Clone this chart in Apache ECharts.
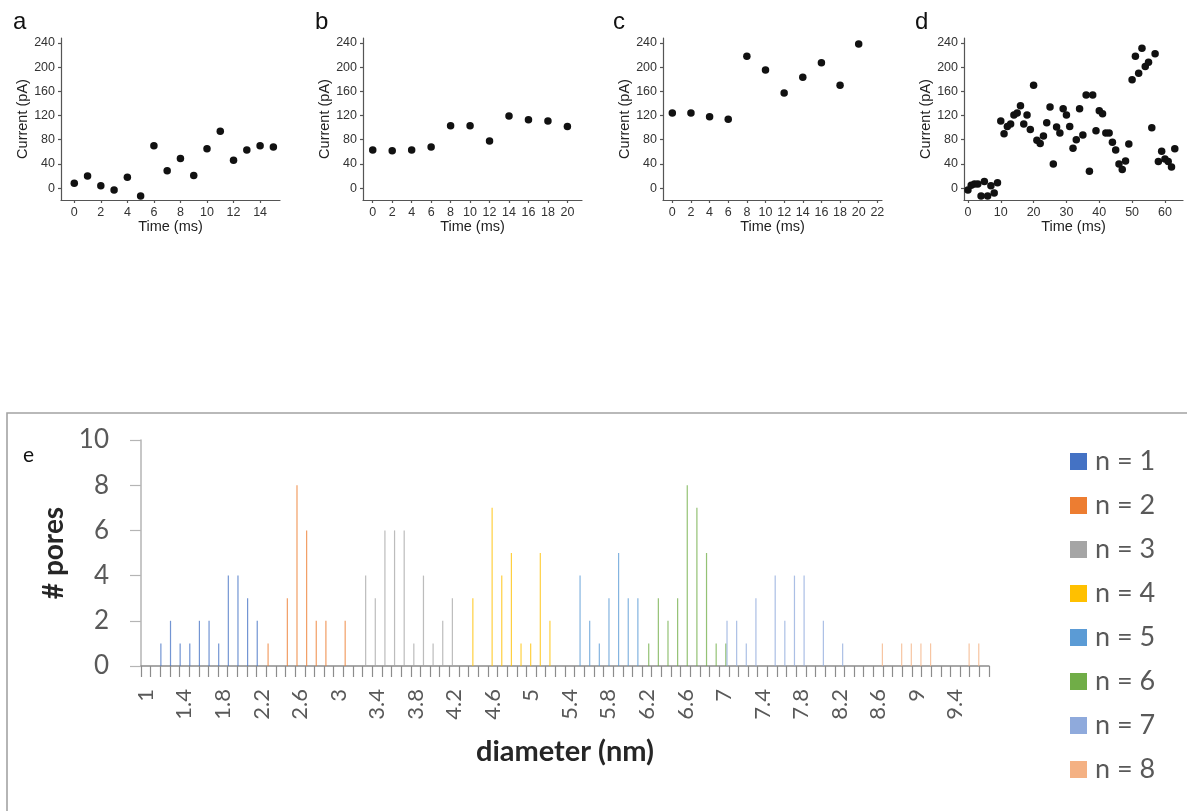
<!DOCTYPE html>
<html>
<head>
<meta charset="utf-8">
<script src="https://cdn.jsdelivr.net/npm/echarts@6/dist/echarts.min.js"></script>
<style>
html,body{margin:0;padding:0;background:#fff;}
#chart{width:1187px;height:811px;}
</style>
</head>
<body>
<div id="chart"></div>
<script>
// ---- Panels a-d : current vs time ----
const aTime = [0,1,2,3,4,5,6,7,8,9,10,11,12,13,14,15];
const aCurrent = [8,20,4,-3,18,-13,70,29,49,21,65,94,46,63,70,68];
const bTime = [0,2,4,6,8,10,12,14,16,18,20];
const bCurrent = [63,62,63,68,103,103,78,119,113,111,102];
const cTime = [0,2,4,6,8,10,12,14,16,18,20];
const cCurrent = [124,124,118,114,218,195,157,183,207,170,238];
const dTime = [0,1,2,3,4,5,6,7,8,9,10,11,12,13,14,15,16,17,18,19,20,21,22,23,24,25,26,27,28,29,30,31,
  32,33,34,35,36,37,38,39,40,41,42,43,44,45,46,47,48,49,50,51,52,53,54,55,56,57,58,59,60,61,62,63];
const dCurrent = [-3,5,7,7,-13,11,-13,4,-8,9,111,90,102,106,121,124,136,106,121,97,170,79,74,86,108,134,40,101,91,131,121,102,
  66,80,131,88,154,28,154,95,128,123,91,91,76,63,40,31,45,73,179,218,190,231,201,208,100,222,44,61,48,44,35,65];
const aTicks = [0,2,4,6,8,10,12,14];
const bTicks = [0,2,4,6,8,10,12,14,16,18,20];
const cTicks = [0,2,4,6,8,10,12,14,16,18,20,22];
const dTicks = [0,10,20,30,40,50,60];
const currentTicks = [0,40,80,120,160,200,240];

// ---- Panel e : pore diameter histogram ----
const diameters = ['1','1.1','1.2','1.3','1.4','1.5','1.6','1.7','1.8','1.9','2','2.1','2.2','2.3','2.4','2.5','2.6','2.7','2.8','2.9',
  '3','3.1','3.2','3.3','3.4','3.5','3.6','3.7','3.8','3.9','4','4.1','4.2','4.3','4.4','4.5','4.6','4.7','4.8','4.9',
  '5','5.1','5.2','5.3','5.4','5.5','5.6','5.7','5.8','5.9','6','6.1','6.2','6.3','6.4','6.5','6.6','6.7','6.8','6.9',
  '7','7.1','7.2','7.3','7.4','7.5','7.6','7.7','7.8','7.9','8','8.1','8.2','8.3','8.4','8.5','8.6','8.7','8.8','8.9',
  '9','9.1','9.2','9.3','9.4','9.5','9.6','9.7'];
const n1 = [['1.2',1],['1.3',2],['1.4',1],['1.5',1],['1.6',2],['1.7',2],['1.8',1],['1.9',4],['2',4],['2.1',3],['2.2',2]];
const n2 = [['2.3',1],['2.5',3],['2.6',8],['2.7',6],['2.8',2],['2.9',2],['3.1',2]];
const n3 = [['3.3',4],['3.4',3],['3.5',6],['3.6',6],['3.7',6],['3.8',1],['3.9',4],['4',1],['4.1',2],['4.2',3]];
const n4 = [['4.4',3],['4.6',7],['4.7',4],['4.8',5],['4.9',1],['5',1],['5.1',5],['5.2',2]];
const n5 = [['5.5',4],['5.6',2],['5.7',1],['5.8',3],['5.9',5],['6',3],['6.1',3]];
const n6 = [['6.2',1],['6.3',3],['6.4',2],['6.5',3],['6.6',8],['6.7',7],['6.8',5],['6.9',1],['7',1]];
const n7 = [['7',2],['7.1',2],['7.2',1],['7.3',3],['7.5',4],['7.6',2],['7.7',4],['7.8',4],['8',2],['8.2',1]];
const n8 = [['8.6',1],['8.8',1],['8.9',1],['9',1],['9.1',1],['9.5',1],['9.6',1]];
const seriesNames = ['n = 1','n = 2','n = 3','n = 4','n = 5','n = 6','n = 7','n = 8'];
const seriesColors = ['#4472C4','#ED7D31','#A5A5A5','#FFC000','#5B9BD5','#70AD47','#8FAADC','#F4B183'];

const zip = (xs, ys) => xs.map((x, i) => [x, ys[i]]);
const FONT = 'Liberation Sans, Arial, sans-serif';
const XL = 'Lato, Carlito, sans-serif';

const panels = [
  {left: 61,  min: -1, max: 15.5, ticks: aTicks, data: zip(aTime, aCurrent), letter: 'a', lx: 13},
  {left: 363, min: -1, max: 21.5, ticks: bTicks, data: zip(bTime, bCurrent), letter: 'b', lx: 315},
  {left: 663, min: -1, max: 22.5, ticks: cTicks, data: zip(cTime, cCurrent), letter: 'c', lx: 613},
  {left: 964, min: -1.2, max: 65.5, ticks: dTicks, data: zip(dTime, dCurrent), letter: 'd', lx: 915}
];

const grid = [], xAxis = [], yAxis = [], series = [], graphic = [];
const axisLineStyle = {color: '#555', width: 1.2};
panels.forEach((p, i) => {
  grid.push({left: p.left, top: 38, width: 219, height: 162});
  xAxis.push({
    gridIndex: i, type: 'value', min: p.min, max: p.max,
    name: 'Time (ms)', nameLocation: 'middle', nameGap: 17,
    nameTextStyle: {fontFamily: FONT, fontSize: 14.5, color: '#222'},
    axisLine: {show: true, onZero: false, lineStyle: axisLineStyle},
    axisTick: {show: true, length: 3, customValues: p.ticks, lineStyle: axisLineStyle},
    axisLabel: {customValues: p.ticks, fontFamily: FONT, fontSize: 12.5, color: '#333', margin: 6},
    splitLine: {show: false}
  });
  yAxis.push({
    gridIndex: i, type: 'value', min: -19.5, max: 248,
    name: 'Current (pA)', nameLocation: 'middle', nameGap: 29,
    nameTextStyle: {fontFamily: FONT, fontSize: 14.5, color: '#222'},
    axisLine: {show: true, onZero: false, lineStyle: axisLineStyle},
    axisTick: {show: true, length: 3, customValues: currentTicks, lineStyle: axisLineStyle},
    axisLabel: {customValues: currentTicks, fontFamily: FONT, fontSize: 12.5, color: '#333', margin: 6},
    splitLine: {show: false}
  });
  series.push({
    type: 'scatter', xAxisIndex: i, yAxisIndex: i, data: p.data,
    symbolSize: 7.5, itemStyle: {color: '#111', opacity: 1}, silent: true
  });
  graphic.push({type: 'text', style: {x: p.lx, y: 22, text: p.letter, fontFamily: FONT, fontSize: 24, fill: '#111', verticalAlign: 'middle'}});
});

// panel e
grid.push({left: 141, top: 440, width: 848, height: 226});
xAxis.push({
  gridIndex: 4, type: 'category', data: diameters, boundaryGap: true,
  name: 'diameter (nm)', nameLocation: 'middle', nameGap: 71,
  nameTextStyle: {fontFamily: XL, fontSize: 29, fontWeight: 'bold', color: '#262626'},
  axisLine: {show: true, lineStyle: {color: '#8c8c8c', width: 1.5}},
  axisTick: {show: true, interval: 0, length: 11, lineStyle: {color: '#8c8c8c', width: 1.2}},
  axisLabel: {interval: 3, rotate: 90, fontFamily: XL, fontSize: 22, color: '#595959', margin: 23},
  splitLine: {show: false}
});
yAxis.push({
  gridIndex: 4, type: 'value', min: 0, max: 10, interval: 2,
  name: '# pores', nameLocation: 'middle', nameGap: 73,
  nameTextStyle: {fontFamily: XL, fontSize: 28, fontWeight: 'bold', color: '#262626'},
  axisLine: {show: true, lineStyle: {color: '#b5b5b5', width: 1.5}},
  axisTick: {show: true, length: 11, lineStyle: {color: '#b5b5b5', width: 1.2}},
  axisLabel: {fontFamily: XL, fontSize: 26, color: '#595959', margin: 32},
  splitLine: {show: false}
});
[n1, n2, n3, n4, n5, n6, n7, n8].forEach((d, k) => {
  series.push({
    type: 'bar', name: seriesNames[k], xAxisIndex: 4, yAxisIndex: 4, data: d,
    barGap: '0%', barCategoryGap: '0%', itemStyle: {color: seriesColors[k], opacity: 0.75}, silent: true
  });
});

graphic.push({type: 'rect', shape: {x: 7, y: 413, width: 1300, height: 500}, style: {fill: 'none', stroke: '#a3a3a3', lineWidth: 1.6}, silent: true});
graphic.push({type: 'text', style: {x: 23, y: 455, text: 'e', fontFamily: XL, fontSize: 21, fill: '#111', verticalAlign: 'middle'}});

const option = {
  backgroundColor: '#fff',
  animation: false,
  grid, xAxis, yAxis, series, graphic,
  legend: {
    orient: 'vertical', left: 1065, top: 443, itemWidth: 17, itemHeight: 17, itemGap: 17,
    icon: 'rect', data: seriesNames.map(n => ({name: n, itemStyle: {opacity: 1}})),
    textStyle: {fontFamily: XL, fontSize: 27, color: '#595959', padding: [0, 0, 0, 3]}
  }
};
const chart = echarts.init(document.getElementById('chart'), null, {renderer: 'canvas'});
chart.setOption(option);
</script>
</body>
</html>
